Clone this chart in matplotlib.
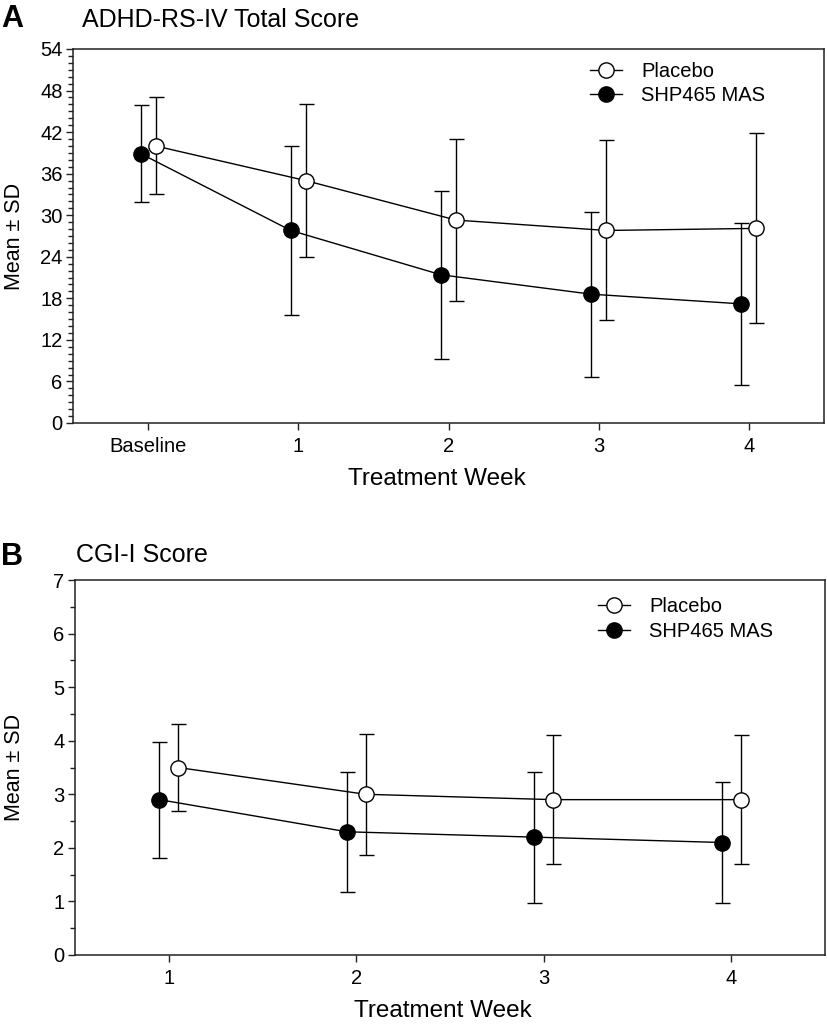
import matplotlib
matplotlib.use("Agg")
import matplotlib.pyplot as plt
from matplotlib.ticker import MultipleLocator

plt.rcParams['font.family'] = ['Liberation Sans', 'DejaVu Sans']

# Panel A data: ADHD-RS-IV Total Score
weeks_A = ['Baseline', '1', '2', '3', '4']
placebo_A_mean = [40.0, 35.0, 29.3, 27.8, 28.1]
placebo_A_sd = [7.0, 11.0, 11.7, 13.0, 13.7]
mas_A_mean = [38.9, 27.8, 21.4, 18.6, 17.2]
mas_A_sd = [7.0, 12.2, 12.1, 11.9, 11.7]

# Panel B data: CGI-I Score
weeks_B = ['1', '2', '3', '4']
placebo_B_mean = [3.5, 3.0, 2.9, 2.9]
placebo_B_sd = [0.82, 1.13, 1.20, 1.20]
mas_B_mean = [2.9, 2.3, 2.2, 2.1]
mas_B_sd = [1.08, 1.12, 1.22, 1.13]

series_labels = ['Placebo', 'SHP465 MAS']

fig = plt.figure(figsize=(8.27, 10.25), dpi=100)

axA = fig.add_axes([73/827, 1 - 423/1025, (824-73)/827, (423-49)/1025])
axB = fig.add_axes([75/827, 1 - 955/1025, (825-75)/827, (955-580)/1025])

off = 0.05
lw = 1.0
ms = 11
cap = 5.4


def draw(ax, xs, pm, psd, mm, msd):
    xp = [x + off for x in xs]
    xm = [x - off for x in xs]
    ax.errorbar(xp, pm, yerr=psd, fmt='none', ecolor='black', elinewidth=lw,
                capsize=cap, capthick=lw, zorder=2)
    ax.errorbar(xm, mm, yerr=msd, fmt='none', ecolor='black', elinewidth=lw,
                capsize=cap, capthick=lw, zorder=2)
    ax.plot(xp, pm, '-o', color='black', lw=lw, ms=ms, mfc='white', mec='black',
            mew=1.0, label=series_labels[0], zorder=3)
    ax.plot(xm, mm, '-o', color='black', lw=lw, ms=ms, mfc='black', mec='black',
            mew=1.0, label=series_labels[1], zorder=3)


def style(ax):
    for s in ax.spines.values():
        s.set_linewidth(1.1)
        s.set_color('#222222')
    ax.tick_params(axis='both', which='major', direction='out', length=5, width=1.0,
                   labelsize=14.5, color='#222222')
    ax.tick_params(axis='y', which='minor', direction='out', length=3.5, width=1.0,
                   color='#222222')
    ax.tick_params(axis='x', which='major', pad=5)
    ax.tick_params(axis='y', which='major', pad=2.5)
    ax.tick_params(axis='x', which='minor', bottom=False)
    ax.tick_params(top=False, right=False)


legend_kw = dict(loc='upper left', frameon=False, fontsize=14.5, handlelength=1.6,
                 handletextpad=0.95, labelspacing=0.28, borderaxespad=0, borderpad=0)

xsA = list(range(len(weeks_A)))
draw(axA, xsA, placebo_A_mean, placebo_A_sd, mas_A_mean, mas_A_sd)
axA.set_xlim(-0.5, len(weeks_A) - 0.5)
axA.set_ylim(0, 54)
axA.set_xticks(xsA)
axA.set_xticklabels(weeks_A)
axA.yaxis.set_major_locator(MultipleLocator(6))
axA.yaxis.set_minor_locator(MultipleLocator(1))
style(axA)
axA.set_xlabel('Treatment Week', fontsize=17.5)
axA.set_ylabel('Mean ± SD', fontsize=15.5)
axA.xaxis.set_label_coords(0.485, -0.12)
axA.yaxis.set_label_coords(-0.064, 0.5)
axA.legend(bbox_to_anchor=(0.688, 0.966), **legend_kw)
fig.text(1/827, 1 - 19/1025, 'A', fontsize=22, fontweight='bold', va='center', ha='left')
fig.text(82/827, 1 - 20/1025, 'ADHD-RS-IV Total Score', fontsize=18, va='center', ha='left')

xsB = [int(w) for w in weeks_B]
draw(axB, xsB, placebo_B_mean, placebo_B_sd, mas_B_mean, mas_B_sd)
axB.set_xlim(0.5, 4.5)
axB.set_ylim(0, 7)
axB.set_xticks(xsB)
axB.set_xticklabels(weeks_B)
axB.yaxis.set_major_locator(MultipleLocator(1))
axB.yaxis.set_minor_locator(MultipleLocator(0.5))
style(axB)
axB.set_xlabel('Treatment Week', fontsize=17.5)
axB.set_ylabel('Mean ± SD', fontsize=15.5)
axB.xaxis.set_label_coords(0.49, -0.12)
axB.yaxis.set_label_coords(-0.066, 0.5)
axB.legend(bbox_to_anchor=(0.697, 0.954), **legend_kw)
fig.text(1/827, 1 - 557/1025, 'B', fontsize=22, fontweight='bold', va='center', ha='left')
fig.text(76/827, 1 - 555/1025, 'CGI-I Score', fontsize=18, va='center', ha='left')

fig.savefig('out.png', dpi=100)
